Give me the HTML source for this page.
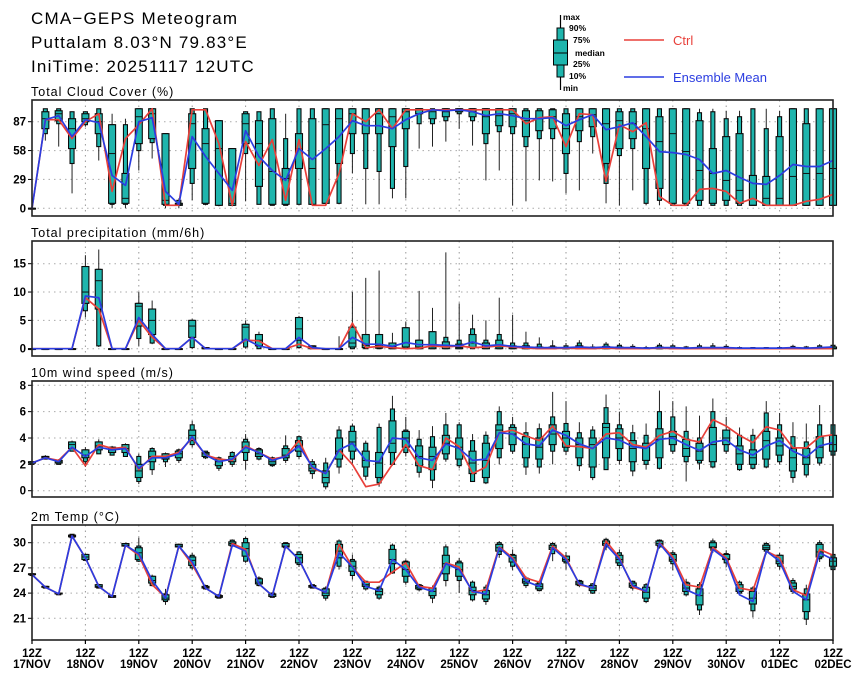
<!DOCTYPE html>
<html><head><meta charset="utf-8"><title>CMA-GEPS Meteogram</title>
<style>
html,body{margin:0;padding:0;background:#fff;}
svg{display:block;font-family:"Liberation Sans",sans-serif;}
.ttl{font-size:17px;letter-spacing:1.2px;}
.pt{font-size:12.5px;letter-spacing:1px;}
.tk{font-size:11.5px;font-weight:bold;}
.lg{font-size:8.5px;font-weight:bold;}
</style></head>
<body>
<svg id="chart" width="860" height="679" viewBox="0 0 860 679">
<text x="31" y="24" class="ttl">CMA−GEPS Meteogram</text>
<text x="31" y="48" class="ttl">Puttalam 8.03°N 79.83°E</text>
<text x="31" y="72" class="ttl">IniTime: 20251117 12UTC</text>
<g>
<line x1="560.5" y1="15" x2="560.5" y2="90" stroke="#000" stroke-width="1.2"/>
<rect x="557" y="28" width="7" height="49" fill="#1fb5ad" stroke="#000" stroke-width="1"/>
<rect x="553.5" y="40" width="14" height="25" fill="#1fb5ad" stroke="#000" stroke-width="1"/>
<line x1="553.5" y1="53" x2="567.5" y2="53" stroke="#000" stroke-width="1"/>
<text x="563" y="20" class="lg">max</text>
<text x="569" y="31" class="lg">90%</text>
<text x="573" y="43" class="lg">75%</text>
<text x="575" y="56" class="lg">median</text>
<text x="573" y="67" class="lg">25%</text>
<text x="569" y="79" class="lg">10%</text>
<text x="563" y="91" class="lg">min</text>
<line x1="624" y1="40" x2="664" y2="40" stroke="#e8403a" stroke-width="1.5"/>
<text x="673" y="45" fill="#e8403a" font-size="13">Ctrl</text>
<line x1="624" y1="77" x2="664" y2="77" stroke="#2b3de0" stroke-width="1.5"/>
<text x="673" y="82" fill="#2b3de0" font-size="13">Ensemble Mean</text>
</g>
</svg>
<script>
// ---- data ----
const days = ["17NOV","18NOV","19NOV","20NOV","21NOV","22NOV","23NOV","24NOV","25NOV","26NOV","27NOV","28NOV","29NOV","30NOV","01DEC","02DEC"];

const cloudCtrl = [0,89,89,70,87,95,17,70,84,100,3,3,99,99,65,3,67,43,69,8,69,3,3,35,95,87,99,80,99,99,99,99,99,99,99,99,99,85,91,92,62,95,94,27,84,77,86,12,3,3,19,20,17,5,10,3,3,3,7,9,14];
const cloudMean = [0,89,93,72,89,86,33,23,87,91,17,4,72,52,35,18,78,52,38,28,60,49,60,72,88,83,83,80,89,95,99,98,99,97,93,95,93,90,90,91,83,89,94,79,82,86,72,57,56,54,49,35,38,31,25,24,33,44,42,42,48];
const cloudBox = [
[0,0,0,0,0,0,0],[68,75,80,90,97,100,100],[62,85,88,95,98,100,100],[15,45,60,80,90,97,97],[82,84,87,90,95,97,97],
[48,62,75,87,95,100,100],[0,4,5,55,84,84,95],[0,4,5,10,35,84,90],[38,58,65,92,100,100,100],[50,66,70,95,100,100,100],
[0,3,4,8,75,75,75],[0,3,3,4,5,8,10],[8,25,40,85,95,100,100],[3,4,5,65,80,100,100],[2,3,3,60,88,88,88],
[2,3,3,5,60,60,60],[7,55,65,85,95,97,97],[4,4,22,65,88,97,97],[3,3,4,37,90,100,100],[3,3,4,30,40,70,95],
[4,4,40,60,75,100,100],[4,4,4,40,90,100,100],[4,5,5,84,100,100,100],[4,5,45,90,100,100,100],[35,55,75,95,100,100,100],
[4,40,75,100,100,100,100],[4,37,75,95,100,100,100],[10,20,62,92,100,100,100],[10,42,80,97,100,100,100],[60,85,95,100,100,100,100],
[62,85,90,97,99,100,100],[67,88,92,97,100,100,100],[80,95,97,99,100,100,100],[63,88,92,97,100,100,100],[28,65,75,92,100,100,100],
[38,77,83,93,100,100,100],[3,75,82,95,100,100,100],[7,62,72,88,98,100,100],[28,70,78,90,98,100,100],[27,70,80,92,99,100,100],
[15,35,55,80,95,100,100],[18,67,78,92,100,100,100],[55,72,82,94,100,100,100],[5,25,45,85,100,100,100],[3,53,60,88,97,100,100],
[18,60,70,85,97,100,100],[3,5,40,80,100,100,100],[3,8,20,67,92,100,100],[3,3,5,75,100,100,100],[3,3,5,57,100,100,100],
[3,3,8,38,88,96,100],[3,3,5,35,60,97,100],[3,3,8,28,72,90,98],[3,3,5,18,75,92,98],[3,3,3,3,33,100,100],
[3,3,3,10,32,80,100],[3,3,3,10,72,92,98],[3,3,3,32,100,100,100],[3,3,3,35,85,100,100],[3,3,3,35,100,100,100],
[3,3,3,40,100,100,100]];

const precCtrl = [0,0,0,0,9,7,0,0,5,2,0,0,2,0,0,0,1.5,1.4,0,0,0.8,0,0,0,4.5,0.2,0.4,0.2,0,0.1,0.5,0.3,0.5,0.2,0.3,0.5,0.3,0.1,0,0,0.1,0,0,0.1,0,0,0,0.1,0,0,0,0,0,0,0,0,0,0,0,0,0];
const precMean = [0,0,0,0,9.3,9,0,0,5.5,2.5,0,0,2,0,0,0,1.7,0.5,0,0,2,0.2,0,0,2,0.8,0.8,0.4,1.1,0.7,0.7,0.6,0.5,1.2,0.5,0.7,0.4,0.3,0.2,0.2,0.2,0.3,0.2,0.3,0.2,0.2,0.1,0.2,0.2,0.1,0.2,0.2,0.2,0.1,0.1,0.1,0.1,0.2,0.1,0.2,0.3];
const precBox = [
[0,0,0,0,0,0,0],[0,0,0,0,0,0,0],[0,0,0,0,0,0,0],[0,0,0,0,0,0,0],[5.5,6.7,8,10,14.5,14.5,16.5],
[0.3,0.5,7,12,14,14,17.5],[0,0,0,0,0,0,0],[0,0,0,0,0,0,0],[0.5,1.8,4,7.5,8,8,10],[0.8,1,2.5,5,7,7,8.5],
[0,0,0,0,0,0,0],[0,0,0,0,0,0,0],[0,0.2,2,4,5,5,5.2],[0,0,0,0,0.2,0.2,0.3],[0,0,0,0,0,0,0],
[0,0,0,0,0,0,0],[0,0.3,1.5,3.8,4.3,4.3,5],[0,0,0.5,1.5,2.5,2.5,3],[0,0,0,0,0,0,0],[0,0,0,0,0,0,0],
[0,0.2,1.5,3.5,5.5,5.5,5.8],[0,0,0,0.3,0.5,0.5,0.5],[0,0,0,0,0,0,0],[0,0,0,0,0,0,2.2],[0,0,0.3,1,3.8,3.8,10],
[0,0,0.2,0.6,2.5,2.5,12.5],[0,0,0.1,0.6,2.5,2.5,13.8],[0,0,0,0.3,1,1,2.8],[0,0,0.3,1,3.7,3.7,4.8],[0,0,0,0.3,1.5,1.5,10.2],
[0,0,0,0.3,3,3,7.2],[0,0,0,0.3,1.2,2,17],[0,0,0,0.2,0.8,1.5,8],[0,0,0.2,1,2.5,3.5,6],[0,0,0,0.3,1,1.5,5],
[0,0,0,0.3,1.5,2.5,9],[0,0,0,0.2,0.5,1,6],[0,0,0,0.1,0.5,1,3],[0,0,0,0.1,0.3,0.8,2],[0,0,0,0.1,0.3,0.5,1.5],
[0,0,0,0,0.2,0.5,1],[0,0,0,0.1,0.5,1,1.5],[0,0,0,0,0.2,0.3,0.8],[0,0,0,0.1,0.4,0.8,1.2],[0,0,0,0,0.3,0.6,1],
[0,0,0,0,0.2,0.4,0.8],[0,0,0,0,0.1,0.2,0.5],[0,0,0,0,0.3,0.6,1],[0,0,0,0,0.2,0.5,0.9],[0,0,0,0,0.1,0.3,0.5],
[0,0,0,0,0.2,0.5,0.9],[0,0,0,0,0.2,0.5,1],[0,0,0,0,0.2,0.4,0.8],[0,0,0,0,0.1,0.2,0.4],[0,0,0,0,0.1,0.2,0.3],
[0,0,0,0,0.1,0.2,0.3],[0,0,0,0,0.1,0.2,0.4],[0,0,0,0,0.2,0.4,0.7],[0,0,0,0,0.1,0.3,0.5],[0,0,0,0,0.2,0.5,0.8],
[0,0,0,0,0.3,0.6,1]];

const windCtrl = [2.1,2.5,2.3,3.3,1.9,3.5,3.2,3.3,1.6,2.6,2.6,2.9,4.0,2.7,2.4,2.3,3.4,2.9,2.4,2.6,3.8,1.7,1.3,3.1,2.0,0.3,0.5,2.0,3.5,1.9,1.6,4.0,3.35,1.3,1.8,4.4,4.6,4.15,3.8,4.9,3.4,3.35,3.2,4.3,4.4,3.5,3.3,4.2,4.5,3.9,3.7,5.4,4.9,4.2,3.65,4.85,4.6,3.25,3.25,4.1,4.25];
const windMean = [2.1,2.5,2.2,3.3,2.6,3.3,3.1,3.2,1.7,2.5,2.5,2.8,4.1,2.7,2.2,2.4,3.3,2.9,2.3,2.6,3.4,1.8,1.3,3.1,3.6,2.3,2.2,4.0,3.9,2.5,2.3,3.55,3.2,2.3,2.4,4.4,4.3,3.55,3.4,4.6,4.2,3.55,3.2,4.0,3.85,3.35,3.2,3.9,4.0,3.5,3.05,3.7,3.85,3.1,2.7,3.4,3.8,3.0,2.55,3.4,3.65];
const windBox = [
[2.0,2.0,2.1,2.1,2.2,2.2,2.2],[2.4,2.4,2.5,2.5,2.6,2.6,2.7],[2.0,2.0,2.1,2.2,2.3,2.3,2.4],[3.0,3.0,3.2,3.5,3.7,3.7,3.8],[1.8,2.2,2.5,2.7,3.1,3.1,3.3],
[2.8,2.8,3.1,3.4,3.7,3.7,3.9],[2.7,2.7,2.9,3.1,3.3,3.3,3.4],[2.6,2.6,2.9,3.2,3.5,3.5,3.6],[0.5,0.7,1.0,1.5,2.0,2.6,2.8],[1.2,1.6,2.2,2.6,3.0,3.2,3.3],
[1.8,2.2,2.4,2.6,2.8,2.8,2.9],[2.1,2.3,2.5,2.8,3.0,3.1,3.2],[3.3,3.5,3.8,4.2,4.6,5.0,5.3],[2.4,2.5,2.6,2.8,2.9,3.0,3.0],[1.5,1.7,1.9,2.2,2.4,2.5,2.6],
[1.8,2.0,2.2,2.4,2.6,2.9,3.0],[1.6,2.3,2.9,3.3,3.7,3.9,4.3],[2.3,2.4,2.6,2.8,3.1,3.2,3.3],[1.8,1.9,2.0,2.2,2.4,2.5,2.6],[2.1,2.3,2.5,2.7,3.2,3.4,4.2],
[2.4,2.6,3.0,3.4,3.8,4.1,4.2],[0.9,1.3,1.5,1.7,2.0,2.2,2.4],[0.1,0.3,0.6,1.0,1.5,2.1,2.5],[1.3,1.8,2.4,3.0,4.0,4.6,4.9],[2.0,2.4,3.0,3.7,4.5,4.9,5.1],
[0.8,1.1,1.8,2.3,3.0,3.6,3.8],[0.3,0.6,1.0,2.1,2.9,4.8,5.1],[1.9,2.0,2.9,3.6,5.3,6.2,7.2],[2.6,2.9,3.3,4.0,4.5,4.6,5.6],[1.0,1.4,1.9,2.6,3.4,3.9,4.6],
[0.2,0.8,1.6,2.6,3.3,4.1,4.9],[2.2,2.4,2.8,3.6,4.2,5.0,5.9],[1.7,1.9,2.4,3.3,4.0,5.0,5.2],[0.7,0.7,1.3,2.1,3.0,3.8,4.3],[0.5,0.6,1.0,2.3,3.6,4.2,4.5],
[2.0,2.5,3.2,4.6,5.0,6.0,6.4],[2.8,3.0,3.5,4.3,4.8,5.0,5.6],[1.2,1.8,2.5,3.5,4.1,4.4,5.2],[1.3,1.8,2.4,3.3,4.0,4.7,5.1],[2.0,3.0,3.5,4.3,5.0,5.6,7.5],
[2.7,3.0,3.3,4.0,4.5,5.1,6.8],[1.5,1.9,2.5,3.5,4.0,4.4,5.2],[0.8,1.0,1.8,3.5,4.0,4.6,4.9],[1.6,1.6,2.5,4.8,5.1,6.3,7.3],[2.0,2.3,3.2,4.0,4.7,5.0,6.0],
[1.1,1.5,2.2,3.2,3.8,4.4,5.0],[1.6,2.0,2.3,3.3,3.6,4.2,5.1],[1.6,1.7,2.5,3.9,4.7,6.0,7.6],[2.8,3.0,3.5,4.1,4.5,5.6,6.8],[0.7,2.2,2.6,3.2,3.9,4.5,6.4],
[1.6,2.1,2.3,3.0,3.6,4.0,5.7],[1.7,1.8,2.2,3.5,4.8,6.0,7.0],[2.8,3.0,3.5,4.0,4.6,4.6,5.6],[1.5,1.6,2.0,2.8,3.4,4.2,4.8],[1.6,1.7,2.0,2.5,3.1,4.2,4.7],
[1.7,1.8,2.4,3.8,4.5,5.9,6.8],[2.0,2.2,2.7,3.4,4.0,5.0,5.9],[0.6,1.0,1.5,2.5,3.2,4.1,5.2],[1.0,1.2,2.0,2.5,3.2,3.7,5.1],[1.9,2.1,2.5,3.3,4.1,5.0,6.5],
[2.5,2.7,3.0,3.5,4.2,5.0,5.1]];

const tempCtrl = [26.2,24.7,23.9,30.8,28.2,24.8,23.6,29.7,28.5,25.0,23.5,29.6,27.4,24.6,23.6,29.9,29.2,25.1,23.7,29.6,28.0,24.8,24.1,29.8,27.1,25.3,25.3,26.5,27.6,24.8,24.6,27.6,27.1,24.1,24.4,29.5,28.2,25.8,25.3,29.6,28.2,25.0,24.6,30.2,28.2,24.7,24.2,30.0,28.3,25.0,24.7,29.4,28.2,24.6,24.3,29.0,28.2,24.4,23.7,29.2,28.5];
const tempMean = [26.2,24.7,23.9,30.8,28.2,24.8,23.6,29.7,28.7,25.5,23.4,29.6,27.7,24.6,23.6,29.7,29.0,25.1,23.7,29.6,28.0,24.8,24.1,28.8,27.1,24.8,24.3,28.0,26.8,24.7,24.2,27.5,26.8,24.2,23.9,29.4,28.0,25.4,24.8,29.4,28.0,25.1,24.6,29.8,28.0,24.9,24.2,29.9,28.0,24.4,23.7,29.2,28.0,23.8,23.0,29.0,27.8,24.2,23.2,28.8,28.0];
const tempBox = [
[26.1,26.1,26.2,26.2,26.3,26.3,26.3],[24.6,24.6,24.7,24.7,24.8,24.8,24.8],[23.8,23.8,23.9,23.9,24.0,24.0,24.0],[30.6,30.6,30.7,30.8,30.9,31.0,31.0],[27.8,27.9,28.0,28.3,28.6,28.6,28.7],
[24.6,24.6,24.7,24.8,25.0,25.0,25.1],[23.5,23.5,23.5,23.6,23.7,23.7,23.8],[29.5,29.6,29.6,29.7,29.9,29.9,30.0],[27.7,27.8,28.0,28.8,29.4,29.6,30.6],[24.8,24.9,25.2,25.5,26.0,26.0,26.2],
[22.6,23.0,23.2,23.4,23.8,23.9,24.5],[29.4,29.5,29.5,29.6,29.8,29.8,29.9],[26.8,27.0,27.3,27.9,28.3,28.5,28.8],[24.4,24.5,24.6,24.7,24.8,24.9,25.0],[23.4,23.4,23.5,23.6,23.7,23.8,23.9],
[29.5,29.6,29.7,29.9,30.1,30.3,30.4],[27.6,27.8,28.4,29.3,30.0,30.5,30.7],[24.8,24.9,25.1,25.3,25.7,25.8,26.0],[23.5,23.5,23.6,23.8,23.9,24.0,24.1],[29.4,29.4,29.5,29.6,29.9,30.0,30.0],
[27.1,27.4,27.6,28.2,28.6,28.9,29.0],[24.6,24.6,24.7,24.8,24.9,25.0,25.0],[23.1,23.4,23.7,24.0,24.5,24.6,24.8],[26.8,27.2,28.2,29.0,29.8,30.2,30.4],[25.6,26.1,26.6,27.2,27.8,28.0,28.6],
[24.3,24.5,24.8,25.0,25.3,25.4,25.5],[23.2,23.4,23.8,24.2,24.5,24.7,24.9],[26.3,26.4,27.5,28.0,29.2,29.7,29.9],[25.0,25.3,26.0,26.8,27.7,27.8,28.0],[24.2,24.4,24.5,24.7,24.9,25.0,25.1],
[22.8,23.4,23.7,24.2,24.6,24.6,24.9],[24.8,25.5,26.3,27.5,28.5,29.5,29.8],[24.0,25.5,26.0,26.8,27.6,27.8,28.2],[23.0,23.2,23.8,24.3,24.7,25.3,25.5],[22.6,23.0,23.3,23.8,24.3,24.7,25.0],
[28.2,28.6,29.0,29.4,29.8,30.0,30.2],[26.7,27.2,27.7,28.2,28.5,28.6,29.2],[24.6,24.9,25.2,25.4,25.7,25.8,26.0],[24.2,24.3,24.5,24.8,25.1,25.3,25.5],[27.8,28.7,29.2,29.4,29.7,29.9,30.1],
[26.8,27.6,27.8,28.0,28.4,28.4,28.9],[24.7,24.9,25.0,25.2,25.4,25.5,25.6],[23.9,24.0,24.3,24.6,24.9,25.1,25.2],[29.1,29.5,29.7,29.9,30.2,30.4,30.6],[26.9,27.3,27.6,28.0,28.5,28.8,29.2],
[24.3,24.6,24.7,24.9,25.2,25.4,25.5],[22.8,23.0,23.4,24.1,24.7,25.0,25.2],[29.3,29.5,29.7,29.9,30.2,30.3,30.4],[26.7,27.5,27.8,28.0,28.6,28.8,29.1],[23.6,23.8,24.2,24.6,25.2,25.3,25.7],
[21.4,22.0,22.6,23.7,24.5,25.0,25.3],[28.8,29.1,29.4,29.5,30.0,30.2,30.5],[27.1,27.6,28.0,28.1,28.6,28.7,29.1],[23.7,24.0,24.2,24.6,25.0,25.3,25.5],[21.1,21.9,22.7,23.4,24.2,24.6,24.8],
[28.6,29.0,29.2,29.4,29.7,29.9,30.1],[26.8,27.2,27.5,27.8,28.5,28.5,28.8],[23.9,24.2,24.5,24.8,25.2,25.5,25.8],[20.2,20.9,21.8,23.2,23.9,24.5,25.0],[27.7,28.1,28.3,28.9,29.8,30.0,30.3],
[26.6,26.8,27.2,27.8,28.2,28.6,28.7]];

const cloudTicks = [0,29,58,87];
const precTicks = [0,5,10,15];
const windTicks = [0,2,4,6,8];
const tempTicks = [21,24,27,30];

// ---- drawing ----
const NS = "http://www.w3.org/2000/svg";
const svg = document.getElementById("chart");
const X0 = 32, X1 = 833, NSTEP = 60;
function xAt(t){ return X0 + (X1 - X0) * t / NSTEP; }
function mk(tag, attrs, parent){
  const e = document.createElementNS(NS, tag);
  for (const k in attrs) e.setAttribute(k, attrs[k]);
  (parent || svg).appendChild(e);
  return e;
}
function makeScale(v0, y0, v1, y1){ return v => y0 + (v - v0) * (y1 - y0) / (v1 - v0); }

const panels = [
  {key:"cloud", title:"Total Cloud Cover (%)", top:100, bot:216, ys:makeScale(0,208.3,87,121.7), ticks:cloudTicks, ctrl:cloudCtrl, mean:cloudMean, box:cloudBox},
  {key:"precip", title:"Total precipitation (mm/6h)", top:241, bot:356, ys:makeScale(0,348.7,15,263.7), ticks:precTicks, ctrl:precCtrl, mean:precMean, box:precBox},
  {key:"wind", title:"10m wind speed (m/s)", top:381, bot:497, ys:makeScale(0,490.7,8,385.3), ticks:windTicks, ctrl:windCtrl, mean:windMean, box:windBox},
  {key:"temp", title:"2m Temp (°C)", top:525, bot:640, ys:makeScale(30,542.7,21,618.3), ticks:tempTicks, ctrl:tempCtrl, mean:tempMean, box:tempBox}
];

panels.forEach(p => {
  const g = mk("g", {});
  
  
  const tt = mk("text", {x:31, y:p.top - 4, class:"pt"}, g);
  tt.textContent = p.title;
  
  
  for (let d = 0; d <= 15; d++) {
    const x = xAt(d * 4);
    const gl = mk("line", {x1:x, y1:p.top, x2:x, y2:p.bot, stroke:"#999", "stroke-width":1, "stroke-dasharray":"1.5,4"}, g);
    
    
  }
  p.ticks.forEach(v => {
    const y = p.ys(v);
    const hl = mk("line", {x1:X0, y1:y, x2:X1, y2:y, stroke:"#aaa", "stroke-width":1, "stroke-dasharray":"1.5,4"}, g);
    
    
    const tk = mk("line", {x1:X0 - 4, y1:y, x2:X0, y2:y, stroke:"#000", "stroke-width":1}, g);
    
    
    const lb = mk("text", {x:X0 - 6, y:y + 4, "text-anchor":"end", class:"tk"}, g);
    lb.textContent = v;
    
    
  });
  p.box.forEach((b, t) => {
    const x = xAt(t);
    const [mn, p10, p25, med, p75, p90, mx] = b;
    const bg = mk("g", {}, g);
    
    
    mk("line", {x1:x, y1:p.ys(mx), x2:x, y2:p.ys(mn), stroke:"#222", "stroke-width":1}, bg);
    const yA = p.ys(p90), yB = p.ys(p10);
    mk("rect", {x:x - 2, y:Math.min(yA,yB), width:4, height:Math.max(0.8, Math.abs(yB - yA)), fill:"#1fb5ad", stroke:"#0a0a0a", "stroke-width":1.1}, bg);
    const yC = p.ys(p75), yD = p.ys(p25);
    mk("rect", {x:x - 3.5, y:Math.min(yC,yD), width:7, height:Math.max(0.8, Math.abs(yD - yC)), fill:"#1fb5ad", stroke:"#0a0a0a", "stroke-width":1.1}, bg);
    mk("line", {x1:x - 3.5, y1:p.ys(med), x2:x + 3.5, y2:p.ys(med), stroke:"#111", "stroke-width":1}, bg);
  });
  const ptsC = p.ctrl.map((v, t) => xAt(t).toFixed(1) + "," + p.ys(v).toFixed(1)).join(" ");
  const lc = mk("polyline", {points:ptsC, fill:"none", stroke:"#e8403a", "stroke-width":1.7, "stroke-linejoin":"round"}, g);
  
  
  const ptsM = p.mean.map((v, t) => xAt(t).toFixed(1) + "," + p.ys(v).toFixed(1)).join(" ");
  const lm = mk("polyline", {points:ptsM, fill:"none", stroke:"#2b3de0", "stroke-width":1.7, "stroke-linejoin":"round"}, g);
  
  
  const fr = mk("rect", {x:X0, y:p.top, width:X1 - X0, height:p.bot - p.top, fill:"none", stroke:"#222", "stroke-width":1.6}, g);
  
  
});

const last = panels[3];
days.forEach((d, i) => {
  const x = xAt(i * 4);
  const tk = mk("line", {x1:x, y1:last.bot, x2:x, y2:last.bot + 4, stroke:"#000", "stroke-width":1.2});
  
  
  const a = mk("text", {x:x, y:657, "text-anchor":"middle", class:"tk"});
  a.textContent = "12Z";
  
  
  const b = mk("text", {x:x, y:668, "text-anchor":"middle", class:"tk"});
  b.textContent = d;
  
  
});
</script>
</body></html>
